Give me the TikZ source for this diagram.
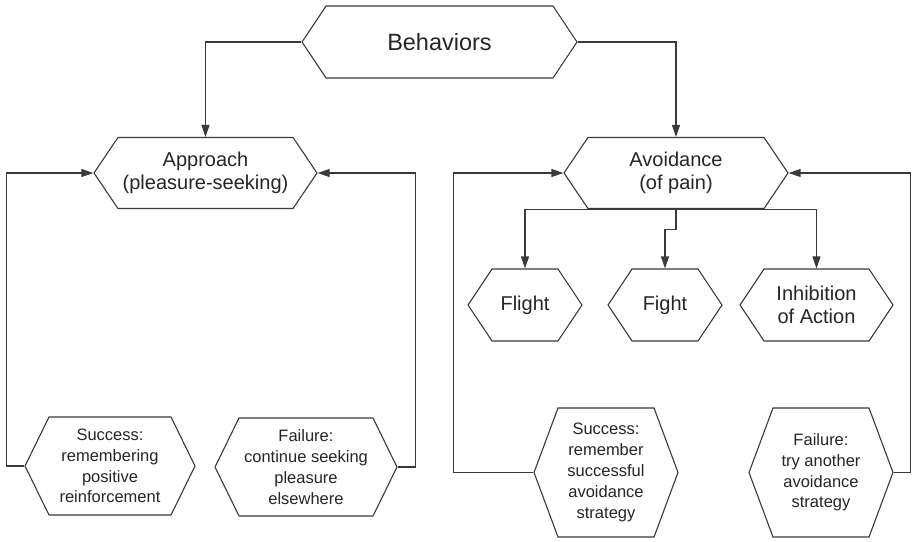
\documentclass[tikz,border=0pt]{standalone}
\usepackage{fontspec}
\setmainfont{Liberation Sans}
\usetikzlibrary{shapes.symbols,arrows.meta}
\definecolor{linegray}{HTML}{3A3A3A}
\definecolor{textgray}{HTML}{262626}

\begin{document}
\begin{tikzpicture}[x=1pt,y=-1pt,
    hexa/.style={shape=signal,signal to=west and east,draw=linegray,line width=1.1pt,
      fill=white,inner sep=0pt,align=center,text=textgray},
    big/.style={font=\fontsize{20}{23}\selectfont},
    small/.style={font=\fontsize{16.5}{20.8}\selectfont},
    arr/.style={draw=linegray,line width=1.1pt,-{Triangle[length=12pt,width=8pt]}}]
    % frame
    \useasboundingbox (0,0) rectangle (913,541);
    % top
    \node[hexa,font=\fontsize{23.5}{26}\selectfont,minimum width=275,minimum height=72,
      signal pointer angle=112.6] (beh) at (439.5,42) {Behaviors};
    % second row
    \node[hexa,big,minimum width=223,minimum height=71,signal pointer angle=112]
      (appr) at (205.5,173) {Approach\\(pleasure-seeking)};
    \node[hexa,big,minimum width=224,minimum height=71,signal pointer angle=112]
      (avoid) at (676,173) {Avoidance\\(of pain)};
    % reactions
    \node[hexa,big,minimum width=114,minimum height=72,signal pointer angle=112.6]
      (flight) at (525,305) {Flight};
    \node[hexa,big,minimum width=114,minimum height=72,signal pointer angle=112.6]
      (fight) at (665,305) {Fight};
    \node[hexa,big,minimum width=153,minimum height=72,signal pointer angle=112.6]
      (inhib) at (816.5,305) {Inhibition\\of Action};
    % outcomes
    \node[hexa,small,minimum width=170,minimum height=98,signal pointer angle=127.8]
      (succA) at (110,466) {Success:\\remembering\\positive\\reinforcement};
    \node[hexa,small,minimum width=182,minimum height=98,signal pointer angle=127.8]
      (failA) at (306,467) {Failure:\\continue seeking\\pleasure\\elsewhere};
    \node[hexa,small,minimum width=144,minimum height=129,signal pointer angle=139.2]
      (succB) at (606,472.5) {Success:\\remember\\successful\\avoidance\\strategy};
    \node[hexa,small,minimum width=144,minimum height=129,signal pointer angle=139.2]
      (failB) at (821,472.5) {Failure:\\try another\\avoidance\\strategy};
    % connectors
    \draw[arr] (beh.west) -| (appr.north);
    \draw[arr] (beh.east) -| (avoid.north);
    \draw[arr] (avoid.south) -| (flight.north);
    \draw[arr] (avoid.south) -| (inhib.north);
    \draw[arr] (avoid.south) -- ++(0,20) -| (fight.north);
    % feedback loops
    \draw[arr] (succA.west) -- ++(-18,0) |- (appr.west);
    \draw[arr] (failA.east) -- ++(18,0) |- (appr.east);
    \draw[arr] (succB.west) -- ++(-80,0) |- (avoid.west);
    \draw[arr] (failB.east) -- ++(17,0) |- (avoid.east);
\end{tikzpicture}
\end{document}
